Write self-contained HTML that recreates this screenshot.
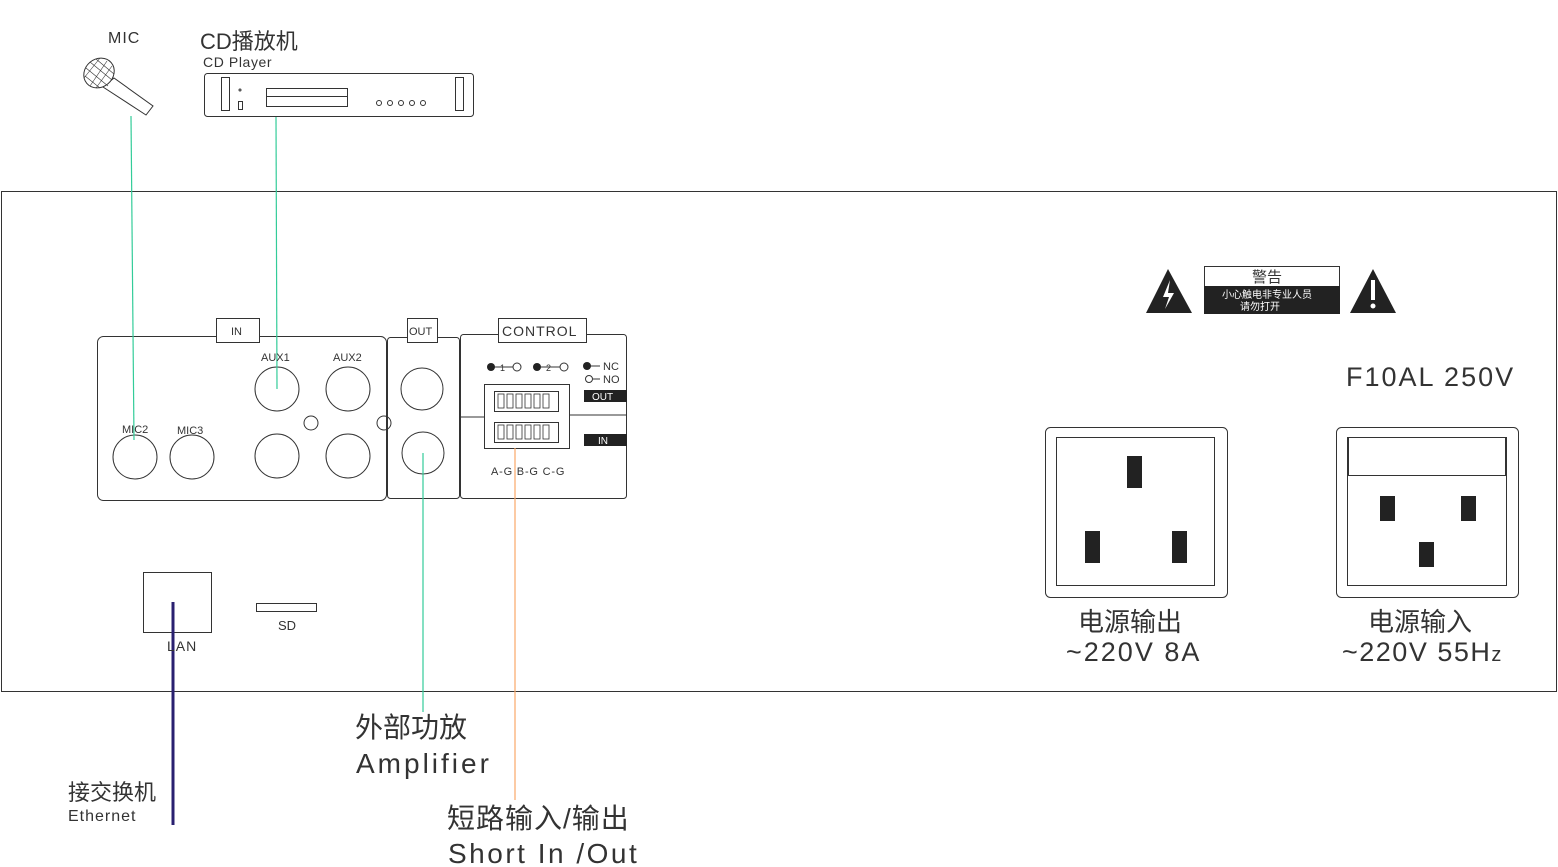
<!DOCTYPE html>
<html><head><meta charset="utf-8"><style>
html,body{margin:0;padding:0;background:#fff;width:1558px;height:867px;overflow:hidden}
svg{display:block}
text{font-family:"Liberation Sans","Noto Sans CJK SC",sans-serif;fill:#333}
</style></head><body>
<svg width="1558" height="867" viewBox="0 0 1558 867" xmlns="http://www.w3.org/2000/svg">
<g fill="none" stroke="#333" stroke-width="1">
<rect x="1.5" y="191.5" width="1555" height="500"/>
<!-- mic -->
<path d="M103,87 L114,78 L153,106 L146,115 Z" fill="#fff"/>
<ellipse cx="99" cy="73" rx="16" ry="14" transform="rotate(-40 99 73)" fill="#fff"/>
<g stroke-width="0.6">
<line x1="86" y1="68" x2="108" y2="86"/><line x1="90" y1="62" x2="112" y2="80"/><line x1="96" y1="59" x2="114" y2="74"/>
<line x1="85" y1="76" x2="100" y2="88"/><line x1="90" y1="86" x2="107" y2="61"/><line x1="84" y1="78" x2="100" y2="58"/><line x1="96" y1="88" x2="112" y2="66"/>
</g>
<!-- CD player -->
<rect x="204.5" y="73.5" width="269" height="43" rx="3"/>
<rect x="221.5" y="77.5" width="8" height="33"/>
<rect x="455.5" y="77.5" width="8" height="33"/>
<rect x="238.5" y="101.5" width="4" height="8"/>
<circle cx="240" cy="90" r="1"/>
<rect x="266.5" y="88.5" width="81" height="18"/>
<line x1="266" y1="96.5" x2="347" y2="96.5"/>
<circle cx="379" cy="103" r="2.5"/><circle cx="390" cy="103" r="2.5"/><circle cx="401" cy="103" r="2.5"/><circle cx="412" cy="103" r="2.5"/><circle cx="423" cy="103" r="2.5"/>
<!-- IN box -->
<rect x="97.5" y="336.5" width="289" height="164" rx="6"/>
<rect x="216.5" y="318.5" width="43" height="24" fill="#fff"/>
<circle cx="135" cy="457" r="22"/><circle cx="192" cy="457" r="22"/>
<circle cx="277" cy="389" r="22"/><circle cx="348" cy="389" r="22"/>
<circle cx="277" cy="456" r="22"/><circle cx="348" cy="456" r="22"/>
<circle cx="311" cy="423" r="7"/><circle cx="384" cy="423" r="7"/>
<!-- OUT box -->
<rect x="387.5" y="337.5" width="72" height="161" rx="3"/>
<rect x="407.5" y="318.5" width="30" height="24" fill="#fff"/>
<circle cx="422" cy="389" r="21"/><circle cx="423" cy="453" r="21"/>
<!-- CONTROL box -->
<rect x="460.5" y="334.5" width="166" height="164" rx="3"/>
<rect x="498.5" y="318.5" width="88" height="24" fill="#fff"/>
<line x1="460" y1="417" x2="484" y2="417"/>
<line x1="570" y1="415" x2="627" y2="415"/>
<rect x="484.5" y="384.5" width="85" height="64" fill="#fff"/>
<rect x="494.5" y="391.5" width="64" height="20"/>
<rect x="494.5" y="422.5" width="64" height="20"/>
<circle cx="517" cy="367" r="4"/><circle cx="564" cy="367" r="4"/>
<circle cx="589" cy="379" r="3.5"/>
<line x1="494" y1="367" x2="513" y2="367"/><line x1="541" y1="367" x2="560" y2="367"/>
<line x1="589" y1="366" x2="600" y2="366"/><line x1="593" y1="379" x2="600" y2="379"/>
<rect x="143.5" y="572.5" width="68" height="60"/>
<rect x="256.5" y="603.5" width="60" height="8"/>
<rect x="1045.5" y="427.5" width="182" height="170" rx="5"/>
<rect x="1056.5" y="437.5" width="158" height="148"/>
<rect x="1336.5" y="427.5" width="182" height="170" rx="5"/>
<rect x="1348.5" y="437.5" width="157" height="38"/>
<rect x="1347.5" y="437.5" width="159" height="148"/>
<rect x="1204.5" y="266.5" width="135" height="47"/>
</g>
<g fill="#222">
<circle cx="491" cy="367" r="4"/><circle cx="537" cy="367" r="4"/><circle cx="587" cy="366" r="4"/>
<rect x="584" y="390" width="43" height="12"/><rect x="584" y="434" width="43" height="12"/>
<rect x="1127" y="456" width="15" height="32"/><rect x="1085" y="531" width="15" height="32"/><rect x="1172" y="531" width="15" height="32"/>
<rect x="1380" y="496" width="15" height="25"/><rect x="1461" y="496" width="15" height="25"/><rect x="1419" y="542" width="15" height="25"/>
<rect x="1204" y="286" width="136" height="28"/>
<path d="M1168,269 L1192,313 L1146,313 Z"/><path d="M1373,269 L1396,313 L1350,313 Z"/>
</g>
<g fill="none" stroke="#333" stroke-width="0.8">
<rect x="498" y="394" width="6" height="14"/><rect x="507" y="394" width="6" height="14"/><rect x="516" y="394" width="6" height="14"/><rect x="525" y="394" width="6" height="14"/><rect x="534" y="394" width="6" height="14"/><rect x="543" y="394" width="6" height="14"/>
<rect x="498" y="425" width="6" height="14"/><rect x="507" y="425" width="6" height="14"/><rect x="516" y="425" width="6" height="14"/><rect x="525" y="425" width="6" height="14"/><rect x="534" y="425" width="6" height="14"/><rect x="543" y="425" width="6" height="14"/>
</g>
<path d="M1170,280 L1163,297 L1169,297 L1165,309 L1174,293 L1168,293 Z" fill="#fff"/>
<rect x="1371" y="280" width="4" height="20" fill="#fff"/><circle cx="1373" cy="306" r="2.5" fill="#fff"/>
<g stroke-width="1.2">
<line x1="131" y1="116" x2="134" y2="440" stroke="#3c9"/>
<line x1="276" y1="117" x2="277" y2="389" stroke="#3c9"/>
<line x1="423" y1="453" x2="423" y2="712" stroke="#3c9"/>
<line x1="515" y1="448" x2="515" y2="800" stroke="#f9a868"/>
<line x1="173" y1="602" x2="173" y2="825" stroke="#2a2070" stroke-width="3"/>
</g>
<text x="108" y="43" font-size="16" letter-spacing="1">MIC</text>
<text x="200" y="49" font-size="22">CD播放机</text>
<text x="203" y="67" font-size="14" letter-spacing="0.6">CD Player</text>
<text x="231" y="335" font-size="11">IN</text>
<text x="409" y="335" font-size="11">OUT</text>
<text x="502" y="336" font-size="14" letter-spacing="1">CONTROL</text>
<text x="261" y="361" font-size="11">AUX1</text>
<text x="333" y="361" font-size="11">AUX2</text>
<text x="122" y="433" font-size="11">MIC2</text>
<text x="177" y="434" font-size="11">MIC3</text>
<text x="500" y="371" font-size="9">1</text><text x="546" y="371" font-size="9">2</text>
<text x="603" y="370" font-size="11">NC</text><text x="603" y="383" font-size="11">NO</text>
<text x="592" y="400" font-size="10" style="fill:#fff">OUT</text>
<text x="598" y="444" font-size="10" style="fill:#fff">IN</text>
<text x="491" y="475" font-size="11" letter-spacing="0.8">A-G B-G C-G</text>
<text x="167" y="651" font-size="14" letter-spacing="1">LAN</text>
<text x="278" y="630" font-size="13">SD</text>
<text x="1252" y="282" font-size="15">警告</text>
<text x="1222" y="298" font-size="10" style="fill:#fff">小心触电非专业人员</text>
<text x="1240" y="310" font-size="10" style="fill:#fff">请勿打开</text>
<text x="1346" y="386" font-size="27" letter-spacing="2">F10AL 250V</text>
<text x="1078" y="631" font-size="26">电源输出</text>
<text x="1066" y="661" font-size="27" letter-spacing="2">~220V 8A</text>
<text x="1368" y="631" font-size="26">电源输入</text>
<text x="1342" y="661" font-size="27" letter-spacing="1.5">~220V 55H<tspan font-size="20">z</tspan></text>
<text x="355" y="737" font-size="28">外部功放</text>
<text x="356" y="773" font-size="28" letter-spacing="3">Amplifier</text>
<text x="68" y="800" font-size="22">接交换机</text>
<text x="68" y="821" font-size="16" letter-spacing="1">Ethernet</text>
<text x="447" y="828" font-size="28" letter-spacing="1">短路输入/输出</text>
<text x="448" y="863" font-size="28" letter-spacing="2.5">Short In /Out</text>
</svg>
</body></html>
